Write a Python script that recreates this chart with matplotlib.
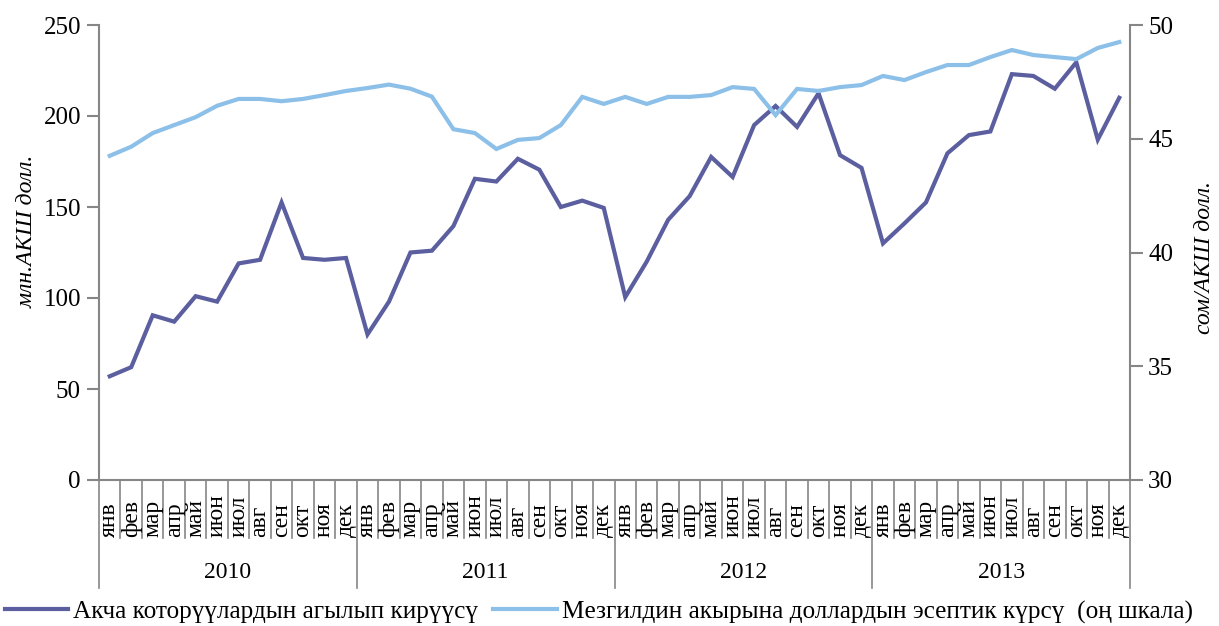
import numpy as np
import matplotlib.pyplot as plt
from matplotlib.lines import Line2D

plt.rcParams['font.family'] = ['Liberation Serif', 'DejaVu Serif']

years = ['2010', '2011', '2012', '2013']
months = ['янв', 'фев', 'мар', 'апр', 'май', 'июн',
          'июл', 'авг', 'сен', 'окт', 'ноя', 'дек']

# money transfers inflow, mln USD
inflow = [57, 62, 90.5, 87, 101, 98, 119, 121, 152.5, 122, 121, 122,
          80, 98, 125, 126, 139.5, 165.5, 164, 176.5, 170.5, 150, 153.5, 149.5,
          100.5, 120, 143, 156, 177.5, 166.5, 195, 205.5, 194, 212.5, 178.5, 171.5,
          130, 141, 152.5, 179.5, 189.5, 191.5, 223, 222, 215, 229.5, 187, 210]

# end of period exchange rate, som/USD
rate = [44.25, 44.65, 45.25, 45.6, 45.95, 46.45, 46.75, 46.75, 46.65, 46.75, 46.92, 47.1,
        47.23, 47.38, 47.2, 46.85, 45.42, 45.25, 44.55, 44.95, 45.03, 45.6, 46.84, 46.53,
        46.84, 46.53, 46.84, 46.84, 46.92, 47.27, 47.19, 46.04, 47.19, 47.1, 47.27, 47.36,
        47.76, 47.58, 47.93, 48.24, 48.24, 48.59, 48.9, 48.68, 48.59, 48.5, 48.99, 49.25]

label_inflow = 'Акча которүүлардын агылып кирүүсү'
label_rate = 'Mезгилдин акырына доллардын эсептик күрсү  (оң шкала)'

W, H = 1219, 626
fig = plt.figure(figsize=(W / 100, H / 100), dpi=100)
L, R, T, B = 99, 1130, 25, 480
ax = fig.add_axes([L / W, 1 - B / H, (R - L) / W, (B - T) / H])
ax2 = ax.twinx()

grey = '#868686'
dark = '#5B5E9F'
light = '#8CC0E9'

n = len(inflow)
x = np.arange(n)
ax.plot(x, inflow, color=dark, lw=3, solid_joinstyle='miter')
ax2.plot(x, rate, color=light, lw=3, solid_joinstyle='miter')

ax.set_xlim(-0.5, n - 0.5)
ax.set_ylim(0, 250)
ax.set_yticks(range(0, 251, 50))
ax2.set_ylim(30, 50)
ax2.set_yticks(range(30, 51, 5))

for a in (ax, ax2):
    for s in a.spines.values():
        s.set_visible(False)
    a.tick_params(axis='y', colors=grey, labelcolor='black', labelsize=18,
                  length=9, width=1.5, direction='out', pad=4)
ax.spines['left'].set_visible(True)
ax.spines['bottom'].set_visible(True)
ax2.spines['right'].set_visible(True)
for s in (ax.spines['left'], ax.spines['bottom'], ax2.spines['right']):
    s.set_color(grey)
    s.set_linewidth(1.5)

ax.set_xticks([])

# two-level category axis
ph = B - T
trans = ax.get_xaxis_transform()
m_end = -(538 - B) / ph
y_end = -(588 - B) / ph
for i in range(n + 1):
    yb = y_end if i % 12 == 0 else m_end
    ax.plot([i - 0.5, i - 0.5], [0, yb], color=grey, lw=1.2,
            transform=trans, clip_on=False)
for i in range(n):
    ax.text(i, -(537 - B) / ph, months[i % 12], rotation=90, ha='center',
            va='bottom', fontsize=17, transform=trans)
for k, yr in enumerate(years):
    ax.text(k * 12 + 5.5, -(573 - B) / ph, yr, ha='center', va='center',
            fontsize=17, transform=trans)

fig.text(27 / W, 1 - 231 / H, 'млн.АКШ долл.', fontsize=17, style='italic',
         rotation=90, ha='center', va='center')
fig.text(1205 / W, 1 - 258 / H, 'сом/АКШ долл.', fontsize=17, style='italic',
         rotation=90, ha='center', va='center')

handles = [Line2D([], [], color=dark, lw=3), Line2D([], [], color=light, lw=3)]
fig.legend(handles, [label_inflow, label_rate], loc='center left',
           bbox_to_anchor=(5 / W, 1 - 612 / H), ncol=2, frameon=False,
           fontsize=18.2, handlelength=2.5, handletextpad=0.2,
           columnspacing=0.6, borderaxespad=0, borderpad=0)

fig.savefig('out.png', dpi=100)
